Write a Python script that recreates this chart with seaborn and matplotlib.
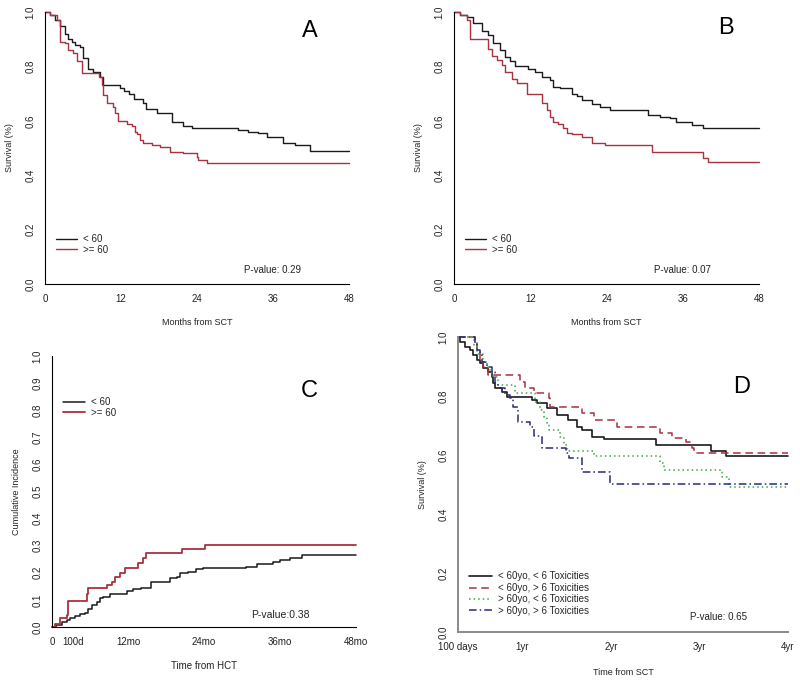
import matplotlib
matplotlib.use("Agg")
import matplotlib.pyplot as plt
import seaborn as sns
import numpy as np

sns.set_style("white")
plt.rcParams['font.family'] = ['Liberation Sans', 'DejaVu Sans']

# ---------------- data ----------------
# Panel A (months, survival)
a_lt60_t = [0, 0.8, 1.6, 2.4, 3.2, 3.7, 4.2, 4.8, 5.5, 6.0, 6.8, 7.6, 8.7, 9.2, 11.8, 12.4, 13.2, 14.0, 15.5, 16.0, 17.7, 20.0, 21.8, 23.2, 30.5, 32.0, 33.7, 35.0, 37.6, 39.5, 41.8, 48]
a_lt60_s = [1.0, 0.99, 0.97, 0.95, 0.92, 0.90, 0.89, 0.88, 0.87, 0.83, 0.79, 0.78, 0.76, 0.73, 0.72, 0.71, 0.70, 0.68, 0.665, 0.645, 0.63, 0.595, 0.58, 0.575, 0.565, 0.56, 0.555, 0.54, 0.52, 0.51, 0.49, 0.49]
a_ge60_t = [0, 0.8, 1.85, 2.4, 3.2, 3.6, 4.4, 5.0, 5.8, 8.5, 9.0, 9.2, 9.8, 10.7, 11.0, 11.5, 12.9, 13.7, 14.2, 14.6, 15.0, 15.5, 16.9, 18.2, 19.7, 21.8, 24.0, 24.2, 25.5, 48]
a_ge60_s = [1.0, 0.99, 0.97, 0.89, 0.885, 0.86, 0.85, 0.82, 0.775, 0.76, 0.73, 0.695, 0.665, 0.65, 0.63, 0.60, 0.59, 0.58, 0.56, 0.55, 0.53, 0.52, 0.51, 0.505, 0.485, 0.48, 0.467, 0.455, 0.444, 0.444]

# Panel B (months, survival)
b_lt60_t = [0, 0.9, 2.0, 3.0, 4.4, 5.4, 6.2, 7.2, 8.0, 8.8, 9.6, 11.7, 12.7, 13.8, 15.1, 15.6, 16.7, 18.6, 19.3, 20.1, 21.7, 23.0, 24.6, 30.6, 32.4, 34.0, 35.0, 37.4, 39.2, 48]
b_lt60_s = [1.0, 0.99, 0.98, 0.96, 0.93, 0.915, 0.885, 0.86, 0.835, 0.82, 0.80, 0.79, 0.78, 0.76, 0.75, 0.725, 0.72, 0.70, 0.69, 0.675, 0.66, 0.65, 0.64, 0.62, 0.615, 0.61, 0.595, 0.585, 0.573, 0.573]
b_ge60_t = [0, 1.0, 2.0, 2.5, 5.4, 6.0, 6.7, 7.5, 8.0, 9.1, 9.9, 11.5, 13.8, 14.6, 15.1, 15.6, 16.4, 17.2, 17.8, 18.6, 20.1, 21.7, 23.8, 31.1, 39.2, 40.0, 48]
b_ge60_s = [1.0, 0.99, 0.97, 0.90, 0.865, 0.84, 0.825, 0.805, 0.78, 0.755, 0.74, 0.70, 0.665, 0.64, 0.615, 0.595, 0.59, 0.575, 0.555, 0.55, 0.54, 0.52, 0.51, 0.485, 0.465, 0.45, 0.45]

# Panel C (months, cumulative incidence)
c_lt60_t = [0, 0.7, 1.5, 2.3, 2.8, 3.6, 4.4, 5.2, 5.7, 6.3, 7.1, 7.6, 8.1, 9.2, 11.8, 12.8, 14.1, 15.7, 18.6, 19.7, 20.2, 21.5, 22.8, 23.9, 30.7, 32.3, 34.9, 36.0, 37.6, 39.4, 48]
c_lt60_v = [0, 0.008, 0.02, 0.026, 0.035, 0.04, 0.047, 0.053, 0.066, 0.081, 0.093, 0.107, 0.112, 0.121, 0.133, 0.139, 0.145, 0.167, 0.18, 0.186, 0.198, 0.204, 0.213, 0.216, 0.222, 0.231, 0.241, 0.247, 0.253, 0.265, 0.265]
c_ge60_t = [0, 0.4, 1.2, 2.3, 2.6, 5.5, 5.7, 8.7, 9.4, 10.0, 10.7, 11.5, 13.6, 14.4, 14.9, 20.5, 24.2, 48]
c_ge60_v = [0, 0.01, 0.035, 0.045, 0.095, 0.12, 0.145, 0.155, 0.167, 0.184, 0.198, 0.219, 0.237, 0.253, 0.272, 0.288, 0.303, 0.303]

# Panel D (years, survival)
d_g1_t = [0.274, 0.296, 0.353, 0.41, 0.447, 0.486, 0.523, 0.56, 0.617, 0.656, 0.674, 0.693, 0.769, 0.826, 1.108, 1.165, 1.278, 1.39, 1.52, 1.618, 1.675, 1.788, 1.92, 2.505, 3.128, 3.298, 4.0]
d_g1_s = [1.0, 0.984, 0.967, 0.956, 0.939, 0.922, 0.911, 0.894, 0.882, 0.865, 0.843, 0.826, 0.815, 0.798, 0.786, 0.775, 0.758, 0.736, 0.719, 0.696, 0.685, 0.662, 0.653, 0.634, 0.615, 0.597, 0.597]
d_g2_t = [0.274, 0.467, 0.486, 0.523, 0.56, 0.617, 0.976, 1.033, 1.127, 1.297, 1.316, 1.675, 1.806, 2.07, 2.56, 2.694, 2.845, 2.92, 2.94, 4.0]
d_g2_s = [1.0, 0.979, 0.95, 0.922, 0.899, 0.871, 0.848, 0.826, 0.809, 0.792, 0.764, 0.741, 0.719, 0.696, 0.674, 0.657, 0.645, 0.623, 0.606, 0.606]
d_g3_t = [0.274, 0.45, 0.486, 0.56, 0.6, 0.636, 0.674, 0.73, 0.92, 1.146, 1.203, 1.24, 1.278, 1.297, 1.43, 1.467, 1.505, 1.806, 2.56, 2.6, 3.26, 3.335, 4.0]
d_g3_s = [1.0, 0.97, 0.944, 0.916, 0.9, 0.877, 0.865, 0.837, 0.811, 0.781, 0.753, 0.73, 0.707, 0.685, 0.662, 0.634, 0.615, 0.597, 0.572, 0.549, 0.524, 0.493, 0.493]
d_g4_t = [0.274, 0.466, 0.486, 0.523, 0.543, 0.6, 0.656, 0.693, 0.73, 0.806, 0.863, 0.9, 0.957, 1.09, 1.127, 1.22, 1.49, 1.524, 1.675, 1.995, 4.0]
d_g4_s = [1.0, 0.979, 0.956, 0.939, 0.916, 0.899, 0.882, 0.843, 0.826, 0.803, 0.792, 0.764, 0.713, 0.696, 0.664, 0.623, 0.606, 0.589, 0.543, 0.502, 0.502]

age_labels = ["< 60", ">= 60"]
d_labels = ["< 60yo, < 6 Toxicities", "< 60yo, > 6 Toxicities", "> 60yo, < 6 Toxicities", "> 60yo, > 6 Toxicities"]
ab_xticks = [0, 12, 24, 36, 48]
c_xticks = [0, 100 / 30.44, 12, 24, 36, 48]
c_xticklabels = ["0", "100d", "12mo", "24mo", "36mo", "48mo"]
d_xticks = [100 / 365, 1, 2, 3, 4]
d_xticklabels = ["100 days", "1yr", "2yr", "3yr", "4yr"]

BLACK = "#1a1a1a"
RED = "#a8323e"
GREEN = "#3aa845"
BLUE = "#2a2a78"
TXT = "#222222"
FS = 7

fig = plt.figure(figsize=(8, 6.81), dpi=100)

def px_axes(l, t, r, b):
    W, H = 800, 681
    return fig.add_axes([l / W, 1 - b / H, (r - l) / W, (b - t) / H])

def style(ax, spine_color="black", spine_lw=0.8):
    for s in ["top", "right"]:
        ax.spines[s].set_visible(False)
    for s in ["left", "bottom"]:
        ax.spines[s].set_color(spine_color)
        ax.spines[s].set_linewidth(spine_lw)
    ax.tick_params(direction="out", length=4, width=0.8, color=spine_color,
                   labelsize=FS, labelcolor=TXT, pad=3)
    for lab in ax.get_yticklabels():
        lab.set_rotation(90)
        lab.set_va("center")
    ax.grid(False)
    ax.set_facecolor("white")

def step(ax, t, v, color, label, **kw):
    sns.lineplot(x=t, y=v, ax=ax, color=color, label=label, drawstyle="steps-post",
                 estimator=None, sort=False, linewidth=kw.pop("lw", 1.0), clip_on=False, **kw)

# ---- Panel A
axA = px_axes(45, 12, 349, 284)
step(axA, a_lt60_t, a_lt60_s, BLACK, age_labels[0])
step(axA, a_ge60_t, a_ge60_s, RED, age_labels[1])
axA.set_xlim(0, 48); axA.set_ylim(0, 1)
axA.set_xticks(ab_xticks); axA.set_yticks([0, 0.2, 0.4, 0.6, 0.8, 1.0])
axA.set_yticklabels(["0.0", "0.2", "0.4", "0.6", "0.8", "1.0"])
style(axA)
axA.set_xlabel("Months from SCT", fontsize=6.5, color=TXT, labelpad=10)
axA.set_ylabel("Survival (%)", fontsize=6.5, color=TXT, labelpad=8)
axA.legend(loc="center left", bbox_to_anchor=(0.02, 0.145), frameon=False, fontsize=FS,
           handlelength=2.2, labelspacing=0.05, handletextpad=0.6, borderpad=0)
axA.text(0.75, 0.05, "P-value: 0.29", transform=axA.transAxes, ha="center", va="center", fontsize=FS, color=TXT)
axA.text(0.87, 0.93, "A", transform=axA.transAxes, ha="center", va="center", fontsize=17, color="black")

# ---- Panel B
axB = px_axes(454, 12, 759, 284)
step(axB, b_lt60_t, b_lt60_s, BLACK, age_labels[0])
step(axB, b_ge60_t, b_ge60_s, RED, age_labels[1])
axB.set_xlim(0, 48); axB.set_ylim(0, 1)
axB.set_xticks(ab_xticks); axB.set_yticks([0, 0.2, 0.4, 0.6, 0.8, 1.0])
axB.set_yticklabels(["0.0", "0.2", "0.4", "0.6", "0.8", "1.0"])
style(axB)
axB.set_xlabel("Months from SCT", fontsize=6.5, color=TXT, labelpad=10)
axB.set_ylabel("Survival (%)", fontsize=6.5, color=TXT, labelpad=8)
axB.legend(loc="center left", bbox_to_anchor=(0.02, 0.145), frameon=False, fontsize=FS,
           handlelength=2.2, labelspacing=0.05, handletextpad=0.6, borderpad=0)
axB.text(0.75, 0.05, "P-value: 0.07", transform=axB.transAxes, ha="center", va="center", fontsize=FS, color=TXT)
axB.text(0.89, 0.94, "B", transform=axB.transAxes, ha="center", va="center", fontsize=17, color="black")

# ---- Panel C
axC = px_axes(52, 356, 356, 627)
step(axC, c_lt60_t, c_lt60_v, BLACK, age_labels[0], lw=1.1)
step(axC, c_ge60_t, c_ge60_v, RED, age_labels[1], lw=1.3)
axC.set_xlim(0, 48); axC.set_ylim(0, 1)
axC.set_xticks(c_xticks); axC.set_xticklabels(c_xticklabels)
yt = [i / 10 for i in range(11)]
axC.set_yticks(yt); axC.set_yticklabels([f"{v:.1f}" for v in yt])
style(axC)
axC.set_xlabel("Time from HCT", fontsize=7, color=TXT, labelpad=10)
axC.set_ylabel("Cumulative Incidence", fontsize=6.5, color=TXT, labelpad=8)
axC.legend(loc="center left", bbox_to_anchor=(0.02, 0.81), frameon=False, fontsize=FS,
           handlelength=2.3, labelspacing=0.05, handletextpad=0.6, borderpad=0)
axC.text(0.75, 0.045, "P-value:0.38", transform=axC.transAxes, ha="center", va="center", fontsize=7.5, color=TXT)
axC.text(0.845, 0.87, "C", transform=axC.transAxes, ha="center", va="center", fontsize=17, color="black")

# ---- Panel D
axD = px_axes(458, 337, 788, 632)
step(axD, d_g1_t, d_g1_s, BLACK, d_labels[0], lw=1.2)
step(axD, d_g2_t, d_g2_s, RED, d_labels[1], lw=1.1, linestyle=(0, (5, 3)))
step(axD, d_g3_t, d_g3_s, GREEN, d_labels[2], lw=1.1, linestyle=(0, (1, 2)))
step(axD, d_g4_t, d_g4_s, BLUE, d_labels[3], lw=1.1, linestyle=(0, (5, 2, 1, 2)))
axD.set_xlim(100 / 365, 4); axD.set_ylim(0, 1)
axD.set_xticks(d_xticks); axD.set_xticklabels(d_xticklabels)
axD.set_yticks([0, 0.2, 0.4, 0.6, 0.8, 1.0])
axD.set_yticklabels(["0.0", "0.2", "0.4", "0.6", "0.8", "1.0"])
style(axD, spine_color="#8a8a8a", spine_lw=1.4)
axD.set_xlabel("Time from SCT", fontsize=6.5, color=TXT, labelpad=12)
axD.set_ylabel("Survival (%)", fontsize=6.5, color=TXT, labelpad=8)
axD.legend(loc="center left", bbox_to_anchor=(0.02, 0.13), frameon=False, fontsize=FS,
           handlelength=2.3, labelspacing=0.15, handletextpad=0.6, borderpad=0)
axD.text(0.79, 0.05, "P-value: 0.65", transform=axD.transAxes, ha="center", va="center", fontsize=FS, color=TXT)
axD.text(0.86, 0.83, "D", transform=axD.transAxes, ha="center", va="center", fontsize=17, color="black")

fig.savefig("out.png", dpi=100, facecolor="white")
